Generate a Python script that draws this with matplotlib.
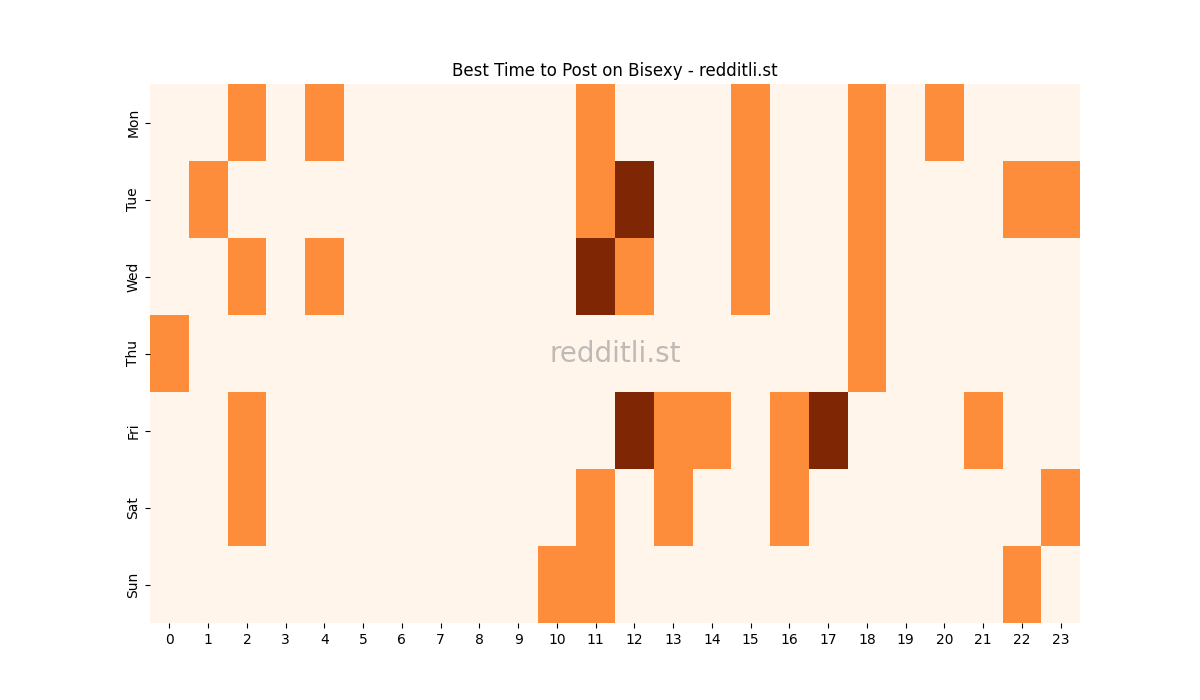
import matplotlib
matplotlib.use("Agg")
import matplotlib.pyplot as plt
import numpy as np
import seaborn as sns

days = ["Mon", "Tue", "Wed", "Thu", "Fri", "Sat", "Sun"]
hours = list(range(24))
mon = {2: 1, 4: 1, 11: 1, 15: 1, 18: 1, 20: 1}
tue = {1: 1, 11: 1, 12: 2, 15: 1, 18: 1, 22: 1, 23: 1}
wed = {2: 1, 4: 1, 11: 2, 12: 1, 15: 1, 18: 1}
thu = {0: 1, 18: 1}
fri = {2: 1, 12: 2, 13: 1, 14: 1, 16: 1, 17: 2, 21: 1}
sat = {2: 1, 11: 1, 13: 1, 16: 1, 23: 1}
sun = {10: 1, 11: 1, 22: 1}
rows = [mon, tue, wed, thu, fri, sat, sun]

data = np.array([[r.get(h, 0) for h in hours] for r in rows])

fig, ax = plt.subplots(figsize=(12, 7), dpi=100)
sns.heatmap(data, cmap="Oranges", cbar=False, ax=ax,
            xticklabels=hours, yticklabels=days)
ax.set_title("Best Time to Post on Bisexy - redditli.st")
ax.text(0.5, 0.5, "redditli.st", transform=ax.transAxes, ha="center",
        va="center", fontsize=20, color="gray", alpha=0.5)
plt.setp(ax.get_xticklabels(), rotation=0)
fig.savefig("out.png")
